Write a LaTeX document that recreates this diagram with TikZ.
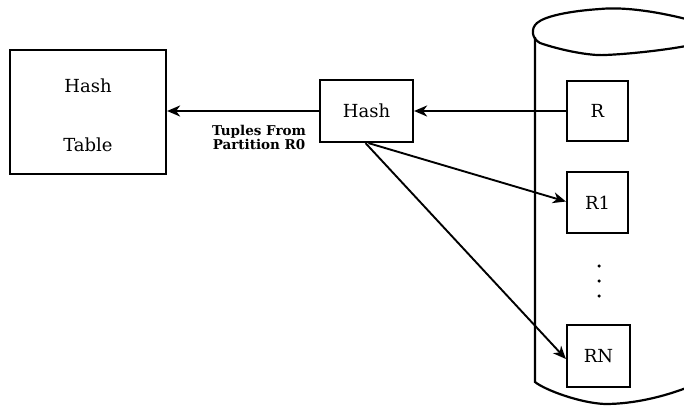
\documentclass[tikz,border=0pt]{standalone}
\usepackage{fontspec}
\setmainfont{DejaVu Serif}
\usetikzlibrary{arrows.meta}
\begin{document}
\begin{tikzpicture}[x=1pt,y=-1pt,
  boxnode/.style={draw,line width=2.2pt,inner sep=0pt,font=\fontsize{18}{21}\selectfont},
  arr/.style={line width=1.9pt,-{Stealth[length=13pt,width=11pt,inset=4pt]}},
  dotnode/.style={circle,fill,inner sep=0pt,minimum size=3.5pt},
  lbl/.style={font=\fontsize{13.5}{13}\selectfont\bfseries,align=center,inner sep=0pt}]
\useasboundingbox (0,0) rectangle (684,405);
% cylinder
\begin{scope}
\clip (0,0) rectangle (684,405);
\draw[line width=2.2pt]
  (686,19) .. controls (650,10) and (620,7) .. (600,9)
  .. controls (570,11) and (545,16) .. (537,23)
  .. controls (531,28) and (531,38) .. (540,43)
  .. controls (560,50) and (590,56) .. (605,55)
  .. controls (630,54) and (665,50) .. (686,46);
\draw[line width=2.2pt]
  (535,37) -- (535,382)
  .. controls (545,390) and (580,403) .. (605,404)
  .. controls (635,404) and (665,396) .. (686,388);
\end{scope}
% nodes
\node[boxnode,minimum width=156pt,minimum height=124pt,align=center,text depth=0pt] (ht) at (88,112)
  {\rule{0pt}{20pt}Hash\\[38pt]Table};
\node[boxnode,minimum width=93pt,minimum height=62pt] (hash) at (366.5,111) {Hash};
\node[boxnode,minimum width=61pt,minimum height=60pt] (r) at (597.5,111) {R};
\node[boxnode,minimum width=61pt,minimum height=61pt] (r1) at (597.5,202.5) {R1};
\node[boxnode,minimum width=63pt,minimum height=62pt] (rn) at (598.5,356) {RN};
\node[dotnode] (d1) at (599,266) {};
\node[dotnode] (d2) at (599,281) {};
\node[dotnode] (d3) at (599,296) {};
\node[lbl] (tl) at (259,137) {Tuples From\\Partition R0};
% connectors
\draw[arr] (r.west) -- (r.west -| hash.east);
\draw[arr] (hash.west) -- (hash.west -| ht.east);
\draw[arr] ([xshift=2pt]hash.south) -- ([yshift=1pt]r1.west);
\draw[arr] ([xshift=-1pt]hash.south) -- ([yshift=-3pt]rn.west);
\end{tikzpicture}
\end{document}
